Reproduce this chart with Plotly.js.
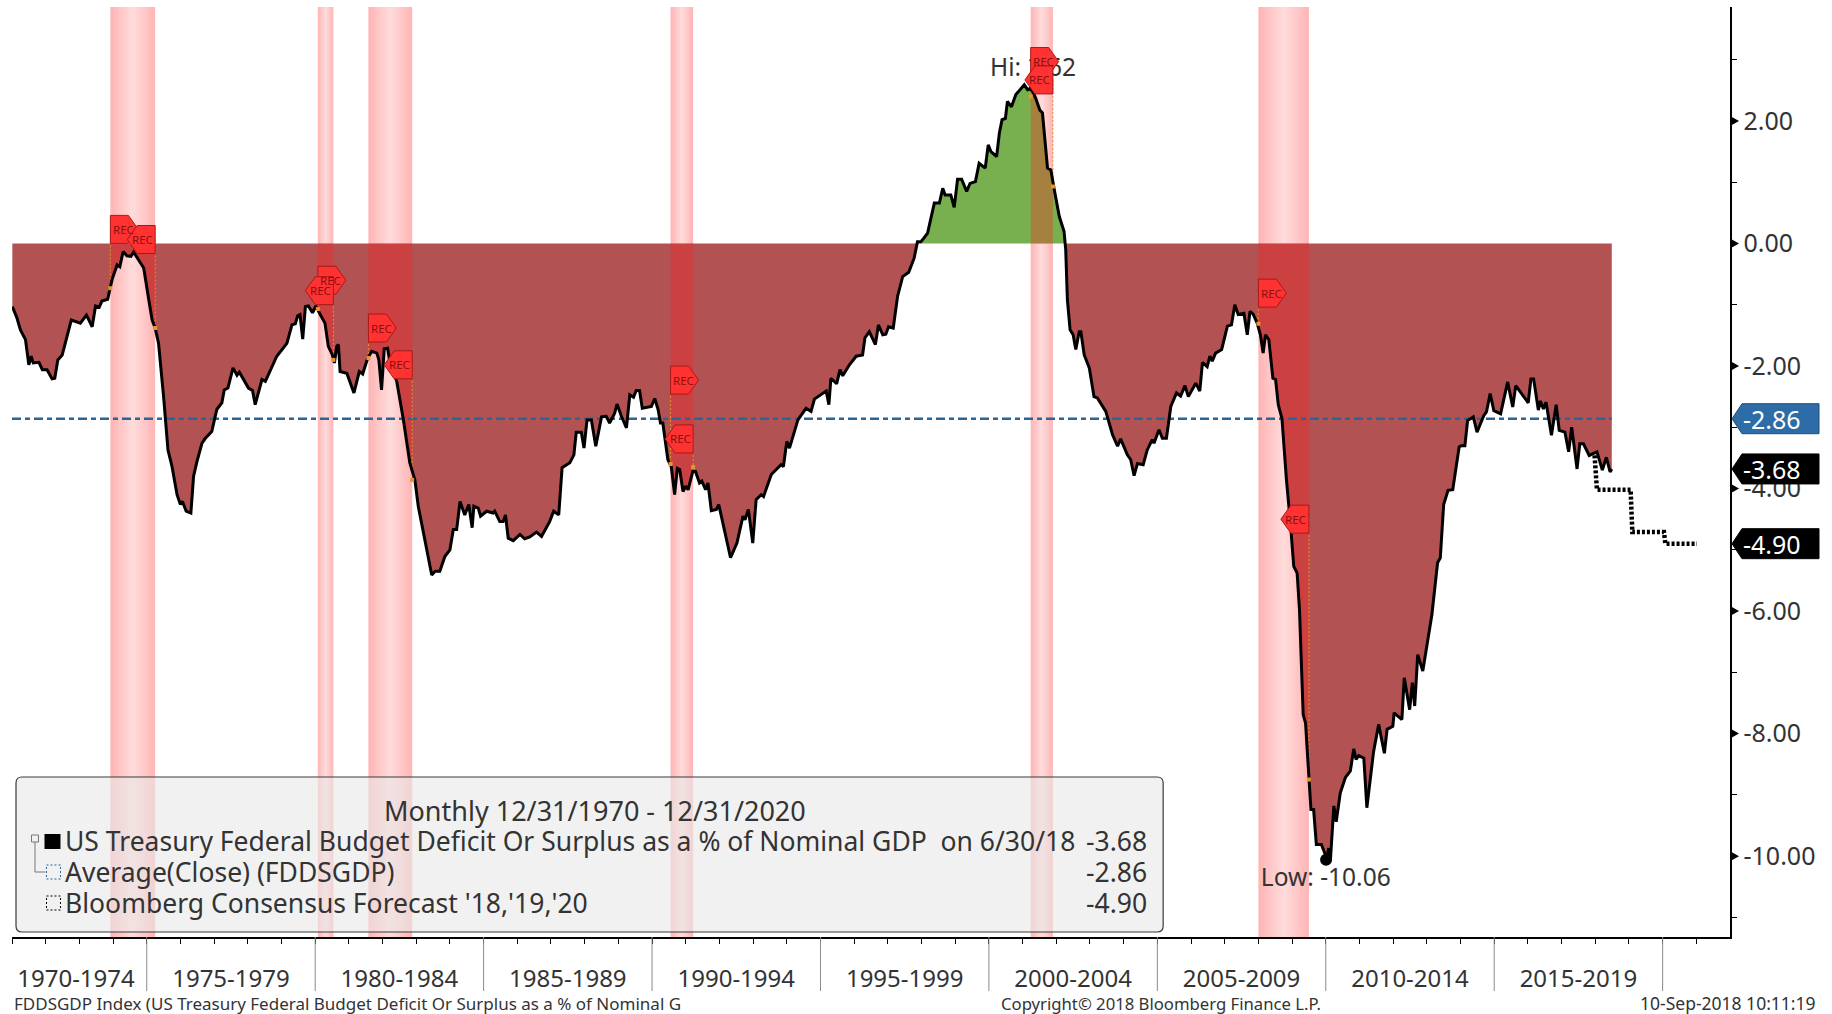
<!DOCTYPE html>
<html>
<head>
<meta charset="utf-8">
<script src="https://cdn.plot.ly/plotly-3.0.1.min.js"></script>
<style>html,body{margin:0;padding:0;background:#fff}#chart{width:1832px;height:1014px}</style>
</head>
<body>
<div id="chart"></div>
<script>
const years = [
1971.01,1971.15,1971.25,1971.40,1971.50,1971.57,1971.63,1971.80,1971.90,1972.04,1972.19,1972.27,1972.36,1972.49,1972.76,1973.03,1973.21,1973.38,1973.48,1973.59,1973.67,1973.84,1973.97,
1974.12,1974.20,1974.30,1974.41,1974.53,1974.61,1974.76,1974.91,1975.06,1975.16,1975.25,1975.35,1975.50,1975.63,1975.75,1975.90,1976.00,1976.06,1976.17,1976.31,1976.39,1976.49,1976.64,1976.74,1976.93,
1977.08,1977.23,1977.30,1977.41,1977.56,1977.68,1977.75,1978.02,1978.14,1978.22,1978.42,1978.52,1978.86,1979.16,1979.31,1979.41,1979.48,1979.55,1979.63,1979.71,1979.80,1979.92,
1980.02,1980.15,1980.29,1980.39,1980.51,1980.57,1980.64,1980.69,1980.74,1980.94,1981.15,1981.31,1981.41,1981.56,1981.68,1981.83,1981.89,1981.97,1982.05,1982.15,1982.22,1982.42,1982.62,1982.81,1982.96,
1983.06,1983.21,1983.46,1983.56,1983.70,1983.85,1984.00,1984.10,1984.20,1984.30,1984.44,1984.56,1984.66,1984.71,1984.84,1984.91,1985.09,1985.28,
1985.33,1985.48,1985.58,1985.65,1985.73,1985.88,1986.08,1986.22,1986.37,1986.57,1986.72,1986.96,1987.08,1987.23,1987.33,1987.56,1987.68,1987.75,1987.90,1987.98,
1988.07,1988.20,1988.33,1988.50,1988.64,1988.74,1988.89,1988.96,1989.09,1989.24,1989.34,1989.45,1989.53,1989.63,1989.71,1989.98,
1990.08,1990.18,1990.25,1990.32,1990.47,1990.57,1990.67,1990.75,1990.82,1990.92,1991.00,1991.07,1991.21,1991.29,1991.41,1991.48,1991.59,1991.66,1991.76,1991.91,1991.98,
1992.33,1992.52,1992.70,1992.76,1992.86,1992.99,1993.09,1993.24,1993.31,1993.54,1993.83,1993.90,1994.00,1994.08,1994.33,1994.57,1994.72,1994.82,
1995.17,1995.25,1995.31,1995.48,1995.58,1995.66,1995.86,1996.06,1996.25,1996.32,1996.45,1996.63,1996.72,1996.85,1996.94,1997.02,1997.16,1997.29,1997.44,1997.62,1997.78,1997.88,1997.98,
1998.03,1998.18,1998.28,1998.38,1998.53,1998.63,1998.70,1998.87,1998.97,1999.07,1999.19,1999.34,1999.44,1999.60,1999.71,1999.89,1999.98,
2000.06,2000.23,2000.31,2000.39,2000.49,2000.55,2000.67,2000.80,2001.05,2001.15,2001.22,2001.30,2001.39,2001.51,2001.59,2001.74,2001.84,2001.94,
2002.09,2002.23,2002.28,2002.33,2002.41,2002.50,2002.58,2002.68,2002.73,2002.83,2002.98,2003.12,2003.22,2003.47,2003.67,2003.82,2003.91,
2004.11,2004.21,2004.31,2004.41,2004.58,2004.70,2004.85,2004.90,2005.05,2005.15,2005.27,2005.40,2005.57,2005.69,2005.82,2005.92,2006.14,2006.26,2006.34,2006.48,2006.56,2006.63,2006.73,2006.91,
2007.08,2007.20,2007.30,2007.40,2007.57,2007.67,2007.75,2007.84,2007.97,2008.06,2008.14,2008.21,2008.31,2008.43,2008.51,2008.59,2008.70,2008.83,2008.95,
2009.05,2009.15,2009.22,2009.30,2009.33,2009.40,2009.47,2009.52,2009.56,2009.64,2009.72,2009.87,2009.97,2010.01,2010.09,2010.14,2010.24,2010.31,2010.43,2010.58,2010.73,2010.83,2010.90,2010.98,
2011.13,2011.22,2011.42,2011.57,2011.74,2011.82,2011.99,2012.03,2012.26,2012.33,2012.49,2012.57,2012.64,2012.73,2012.88,2013.15,2013.32,2013.40,2013.50,
2013.63,2013.77,2013.96,2014.02,2014.13,2014.21,2014.38,2014.49,2014.69,2014.77,2014.88,2014.99,2015.19,2015.40,2015.55,2015.64,2016.01,2016.09,2016.17,2016.31,2016.37,2016.46,2016.54,2016.70,2016.84,2016.93,
2017.10,2017.21,2017.30,2017.46,2017.54,2017.65,2017.82,2018.05,2018.21,2018.33,2018.44,2018.49
];
const balance = [
-1.03,-1.22,-1.41,-1.57,-1.98,-1.84,-1.95,-1.94,-2.06,-2.06,-2.21,-2.20,-1.90,-1.82,-1.25,-1.30,-1.17,-1.36,-1.02,-1.04,-0.94,-0.91,-0.59,
-0.35,-0.38,-0.13,-0.20,-0.21,-0.14,-0.27,-0.40,-0.92,-1.25,-1.38,-1.63,-2.50,-3.37,-3.64,-4.10,-4.26,-4.21,-4.37,-4.40,-3.80,-3.56,-3.26,-3.18,-3.07,
-2.71,-2.60,-2.39,-2.36,-2.03,-2.15,-2.10,-2.36,-2.40,-2.63,-2.22,-2.25,-1.84,-1.63,-1.33,-1.31,-1.18,-1.16,-1.56,-1.03,-1.02,-1.13,
-1.02,-1.16,-1.30,-1.68,-1.82,-1.95,-1.68,-1.65,-2.09,-2.12,-2.44,-2.09,-2.13,-1.87,-1.76,-1.79,-1.90,-2.39,-1.72,-1.71,-1.95,-2.25,-2.88,-3.58,-3.86,
-4.29,-4.73,-5.41,-5.35,-5.35,-5.11,-5.00,-4.67,-4.67,-4.21,-4.43,-4.26,-4.64,-4.29,-4.32,-4.45,-4.37,-4.40,
-4.37,-4.54,-4.54,-4.43,-4.81,-4.85,-4.75,-4.82,-4.79,-4.71,-4.78,-4.54,-4.37,-4.43,-3.66,-3.58,-3.45,-3.08,-3.08,-3.34,
-2.88,-2.88,-3.31,-2.83,-2.82,-2.93,-2.77,-2.62,-2.82,-3.01,-2.47,-2.51,-2.40,-2.40,-2.69,-2.66,
-2.53,-2.71,-2.93,-2.93,-3.53,-3.64,-4.10,-3.67,-3.69,-4.05,-3.96,-4.02,-3.72,-3.72,-3.91,-3.88,-4.02,-3.91,-4.36,-4.34,-4.26,
-5.13,-4.89,-4.45,-4.51,-4.34,-4.89,-4.18,-4.10,-4.13,-3.77,-3.61,-3.64,-3.23,-3.34,-2.88,-2.69,-2.74,-2.54,
-2.41,-2.63,-2.20,-2.29,-2.06,-2.16,-1.98,-1.84,-1.82,-1.54,-1.44,-1.65,-1.33,-1.49,-1.48,-1.36,-1.38,-0.86,-0.54,-0.47,-0.24,0.03,0.03,
0.06,0.17,0.41,0.66,0.66,0.90,0.79,0.79,0.59,1.05,1.05,0.85,0.98,1.01,1.31,1.23,1.61,
1.50,1.42,1.80,2.02,2.04,2.32,2.23,2.43,2.59,2.51,2.53,2.48,2.37,2.18,2.13,1.23,1.20,0.88,
0.44,0.20,-0.10,-0.92,-1.41,-1.49,-1.73,-1.44,-1.44,-1.82,-2.03,-2.50,-2.52,-2.74,-3.12,-3.31,-3.19,
-3.45,-3.53,-3.79,-3.59,-3.61,-3.37,-3.20,-3.26,-3.04,-3.18,-3.18,-2.66,-2.44,-2.49,-2.32,-2.50,-2.28,-2.41,-1.94,-2.01,-1.84,-1.92,-1.79,-1.73,
-1.35,-1.33,-1.00,-1.16,-1.14,-1.49,-1.11,-1.15,-1.31,-1.49,-1.79,-1.49,-1.57,-2.20,-2.22,-2.63,-2.86,-3.84,-4.56,
-5.27,-5.38,-5.98,-7.23,-7.69,-7.83,-8.53,-8.97,-9.24,-9.24,-9.81,-9.81,-9.95,-10.06,-9.87,-10.05,-9.18,-9.44,-8.97,-8.72,-8.61,-8.25,-8.42,-8.36,
-8.40,-9.21,-8.29,-7.85,-8.32,-7.93,-7.88,-7.66,-7.77,-7.09,-7.61,-7.17,-7.55,-6.71,-6.98,-6.06,-5.21,-5.13,-4.26,
-4.03,-4.02,-3.32,-3.30,-3.30,-2.89,-2.83,-3.08,-2.81,-2.75,-2.45,-2.73,-2.78,-2.26,-2.67,-2.32,-2.60,-2.21,-2.21,-2.72,-2.57,-2.70,-2.59,-3.13,-2.63,-3.05,
-3.08,-3.40,-3.00,-3.68,-3.27,-3.27,-3.46,-3.40,-3.70,-3.49,-3.73,-3.68
];
const forecastYears = [2017.98,2018.05,2019.05,2019.10,2020.04,2020.08,2021.02];
const forecastValues = [-3.46,-4.02,-4.02,-4.71,-4.71,-4.90,-4.90];
const averageValue = -2.86, lastValue = -3.68, forecastValue = -4.90;
const lowYear = 2010.01, lowValue = -10.06;
const recessionStarts = [1973.92,1980.08,1981.58,1990.55,2001.24,2008.00];
const recessionEnds   = [1975.25,1980.54,1982.88,1991.22,2001.90,2009.50];
const flagYears  = [1973.92,1975.25,1980.08,1980.54,1981.58,1982.88,1990.55,1991.22,2001.24,2001.90,2008.00,2009.50];
const flagValues = [0.23,0.065,-0.60,-0.77,-1.38,-1.98,-2.23,-3.19,2.97,2.67,-0.81,-4.50];
const flagCurve  = [-0.73,-1.38,-1.07,-1.90,-1.87,-3.86,-3.60,-3.65,2.40,0.93,-1.31,-8.75];
const flagPoints = [1,-1,1,-1,1,-1,1,-1,1,-1,1,-1];
const rightTicks = [2,0,-2,-4,-6,-8,-10];
const rightTickText = ['2.00','0.00','-2.00','-4.00','-6.00','-8.00','-10.00'];
const rightMinor = [3,1,-1,-3,-5,-7,-9,-11];
const periodCentres = [1972.9,1977.5,1982.5,1987.5,1992.5,1997.5,2002.5,2007.5,2012.5,2017.5];
const periodLabels = ['1970-1974','1975-1979','1980-1984','1985-1989','1990-1994','1995-1999','2000-2004','2005-2009','2010-2014','2015-2019'];
const periodBreaks = [1975,1980,1985,1990,1995,2000,2005,2010,2015,2020];
const yearTicks = [];
for (let y = 1971; y <= 2021; y++) yearTicks.push(y);

const FONT = '"Noto Sans", sans-serif';
const TXT = '#333333';
const L = 11.5, R = 1730, T = 7, B = 937;
const px = x => (x - L) / (R - L);
const py = y => (B - y) / (B - T);

function valueAt(t){
  for (let i = 1; i < years.length; i++){
    if (years[i] >= t){
      const f = (t - years[i-1]) / (years[i] - years[i-1]);
      return balance[i-1] + f * (balance[i] - balance[i-1]);
    }
  }
  return balance[balance.length-1];
}

const traces = [];
traces.push({x:years, y:balance.map(v=>Math.min(v,0)), type:'scatter', mode:'lines', fill:'tozeroy',
  fillcolor:'#B25252', line:{width:0}, hoverinfo:'skip', showlegend:false});
traces.push({x:years, y:balance.map(v=>Math.max(v,0)), type:'scatter', mode:'lines', fill:'tozeroy',
  fillcolor:'#79B04F', line:{width:0}, hoverinfo:'skip', showlegend:false});
recessionStarts.forEach((s,i)=>{
  const e = recessionEnds[i];
  const xs=[s], ys=[valueAt(s)];
  years.forEach((y,k)=>{ if (y>s && y<e){ xs.push(y); ys.push(balance[k]); } });
  xs.push(e); ys.push(valueAt(e));
  traces.push({x:xs, y:ys, type:'scatter', mode:'lines', fill:'tozeroy', fillcolor:'rgba(255,30,30,0.33)',
    line:{width:0}, hoverinfo:'skip', showlegend:false});
});
traces.push({x:[1971,2018.49], y:[averageValue,averageValue], type:'scatter', mode:'lines',
  line:{color:'#2C6496', width:2.5, dash:'9px,4px,5px,4px'}, hoverinfo:'skip', showlegend:false});
const ox=[], oy=[];
flagYears.forEach((y,i)=>{ ox.push(y,y,null); oy.push(flagValues[i],flagCurve[i],null); });
traces.push({x:ox, y:oy, type:'scatter', mode:'lines', line:{color:'#E8952A', width:1, dash:'2px,2px'},
  hoverinfo:'skip', showlegend:false});
traces.push({x:forecastYears, y:forecastValues, type:'scatter', mode:'lines',
  line:{color:'#000', width:4.5, dash:'3px,2px'}, hoverinfo:'skip', showlegend:false});
traces.push({x:years, y:balance, type:'scatter', mode:'lines', line:{color:'#000', width:3},
  hoverinfo:'skip', showlegend:false});
traces.push({x:flagYears, y:flagCurve, type:'scatter', mode:'markers',
  marker:{color:'#E8952A', size:4, symbol:'square'}, hoverinfo:'skip', showlegend:false});
traces.push({x:[lowYear], y:[lowValue], type:'scatter', mode:'markers', marker:{color:'#000', size:12},
  hoverinfo:'skip', showlegend:false});
traces.push({x:[2001.31,2010.0], y:[2.84,-10.38], type:'scatter', mode:'text', text:['Hi: 2.62','Low: -10.06'],
  textposition:'middle center', textfont:{family:FONT, size:24.5, color:TXT}, hoverinfo:'skip', showlegend:false});

const shapes = [];
// recession bands: nested rectangles make the soft gradient
recessionStarts.forEach((s,i)=>{
  const e = recessionEnds[i], n = 9, half = (e-s)/2;
  for (let k=0;k<n;k++){
    const f = k/(n-1);
    const g = Math.round(182 + 36*f);
    shapes.push({type:'rect', layer:'below', xref:'x', yref:'paper', x0:s+half*f*0.9, x1:e-half*f*0.9, y0:0, y1:1,
      line:{width:0}, fillcolor:`rgb(255,${g},${g})`});
  }
});
// five-year separators below the axis
periodBreaks.forEach(y=>{
  shapes.push({type:'line', xref:'x', yref:'paper', x0:y, x1:y, y0:0, y1:py(991), line:{color:'#8a8a8a', width:1}});
});
// triangular major ticks on the right axis
rightTicks.forEach(v=>{
  shapes.push({type:'path', layer:'above', xref:'paper', yref:'y', xsizemode:'pixel', ysizemode:'pixel', xanchor:1, yanchor:v,
    path:'M1,-4.5 L9,0 L1,4.5 Z', fillcolor:'#000', line:{width:0}});
});
// legend box
const bx0=15.5,bx1=1163,by0=777,by1=932,r=6;
shapes.push({type:'path', xref:'paper', yref:'paper', layer:'above',
  path:`M${px(bx0+r)},${py(by0)} L${px(bx1-r)},${py(by0)} Q${px(bx1)},${py(by0)} ${px(bx1)},${py(by0+r)} L${px(bx1)},${py(by1-r)} Q${px(bx1)},${py(by1)} ${px(bx1-r)},${py(by1)} L${px(bx0+r)},${py(by1)} Q${px(bx0)},${py(by1)} ${px(bx0)},${py(by1-r)} L${px(bx0)},${py(by0+r)} Q${px(bx0)},${py(by0)} ${px(bx0+r)},${py(by0)} Z`,
  fillcolor:'rgba(231,231,231,0.6)', line:{color:'#3a3a3a', width:1.2}});
function legendRect(x0,y0,x1,y1,fill,line){
  shapes.push({type:'rect', xref:'paper', yref:'paper', layer:'above', x0:px(x0), x1:px(x1), y0:py(y0), y1:py(y1), fillcolor:fill, line:line});
}
legendRect(44,834,60,849,'#000',{width:0});
legendRect(31,835,38,842,'rgba(0,0,0,0)',{color:'#777',width:1});
legendRect(46,865,60,879,'rgba(0,0,0,0)',{color:'#2C6496',width:1,dash:'2px,2px'});
legendRect(46,896,60,910,'rgba(0,0,0,0)',{color:'#000',width:1,dash:'2px,2px'});
shapes.push({type:'path', xref:'paper', yref:'paper', layer:'above',
  path:`M${px(34.5)},${py(842)} L${px(34.5)},${py(872)} L${px(45)},${py(872)}`, line:{color:'#777',width:1}});
// REC flags
flagYears.forEach((y,i)=>{
  const d = flagPoints[i];
  shapes.push({type:'path', layer:'above', xref:'x', yref:'y', xsizemode:'pixel', ysizemode:'pixel', xanchor:y, yanchor:flagValues[i],
    path:`M0,-14 L${d*18},-14 L${d*28},0 L${d*18},14 L0,14 Z`, fillcolor:'#FF3232', line:{color:'#A81818', width:1}});
});
// value tags on the right axis
[[averageValue,'#2E6CA8'],[lastValue,'#000'],[forecastValue,'#000']].forEach(t=>{
  shapes.push({type:'path', layer:'above', xref:'paper', yref:'y', xsizemode:'pixel', ysizemode:'pixel', xanchor:1, yanchor:t[0],
    path:'M2,0 L12,-15 L89,-15 L89,15 L12,15 Z', fillcolor:t[1], line:{color:t[1]==='#000'?'#000':'#1F4E80', width:1}});
});

const annotations = [];
flagYears.forEach((y,i)=>{
  annotations.push({xref:'x', yref:'y', x:y, y:flagValues[i], xshift:flagPoints[i]*13, text:'REC', showarrow:false,
    font:{family:FONT, size:11.5, color:'#8A1010'}});
});
[[averageValue,'-2.86'],[lastValue,'-3.68'],[forecastValue,'-4.90']].forEach(t=>{
  annotations.push({xref:'paper', yref:'y', x:1, xshift:11, xanchor:'left', y:t[0], text:t[1], showarrow:false,
    font:{family:FONT, size:25, color:'#fff'}});
});
function note(x,y,text,anchor,size){
  annotations.push({xref:'paper', yref:'paper', x:px(x), y:py(y), xanchor:anchor, yanchor:'middle', text:text, showarrow:false,
    font:{family:FONT, size:size, color:TXT}});
}
note(595,810,'Monthly 12/31/1970 - 12/31/2020','center',27);
note(63,841,'US Treasury Federal Budget Deficit Or Surplus as a % of Nominal GDP  on 6/30/18','left',26.5);
note(63,872,'Average(Close) (FDDSGDP)','left',26.5);
note(63,903,"Bloomberg Consensus Forecast '18,'19,'20",'left',26.5);
note(1149,841,'-3.68','right',26.5);
note(1149,872,'-2.86','right',26.5);
note(1149,903,'-4.90','right',26.5);
note(12,1003,'FDDSGDP Index (US Treasury Federal Budget Deficit Or Surplus as a % of Nominal G','left',17);
note(999,1003,'Copyright\u00A9 2018 Bloomberg Finance L.P.','left',16.7);
note(1818,1003,'10-Sep-2018 10:11:19','right',17.5);

const layout = {
  width:1832, height:1014, autosize:false, showlegend:false,
  paper_bgcolor:'#fff', plot_bgcolor:'rgba(0,0,0,0)',
  margin:{l:L, r:1832-R, t:T, b:1014-B, pad:0},
  font:{family:FONT, color:TXT},
  xaxis:{range:[1971,2022], showgrid:false, zeroline:false, showline:true, linecolor:'#000', linewidth:2,
    tickmode:'array', tickvals:periodCentres, ticktext:periodLabels, ticks:'outside', ticklen:19, tickcolor:'rgba(0,0,0,0)',
    tickfont:{family:FONT, size:24, color:TXT}, tickangle:0,
    minor:{tickmode:'array', tickvals:yearTicks, ticks:'outside', ticklen:5, tickcolor:'#000', tickwidth:1, showgrid:false}},
  yaxis:{range:[-11.32,3.86], side:'right', showgrid:false, zeroline:false, showline:true, linecolor:'#000', linewidth:1.5,
    tickmode:'array', tickvals:rightTicks, ticktext:rightTickText, ticks:'outside', ticklen:7, tickwidth:1, tickcolor:'rgba(0,0,0,0)',
    tickfont:{family:FONT, size:25, color:TXT},
    minor:{tickmode:'array', tickvals:rightMinor, ticks:'outside', ticklen:5, tickcolor:'#000', tickwidth:1, showgrid:false}},
  shapes:shapes, annotations:annotations
};
Plotly.newPlot('chart', traces, layout, {displayModeBar:false, staticPlot:true});
</script>
</body>
</html>
